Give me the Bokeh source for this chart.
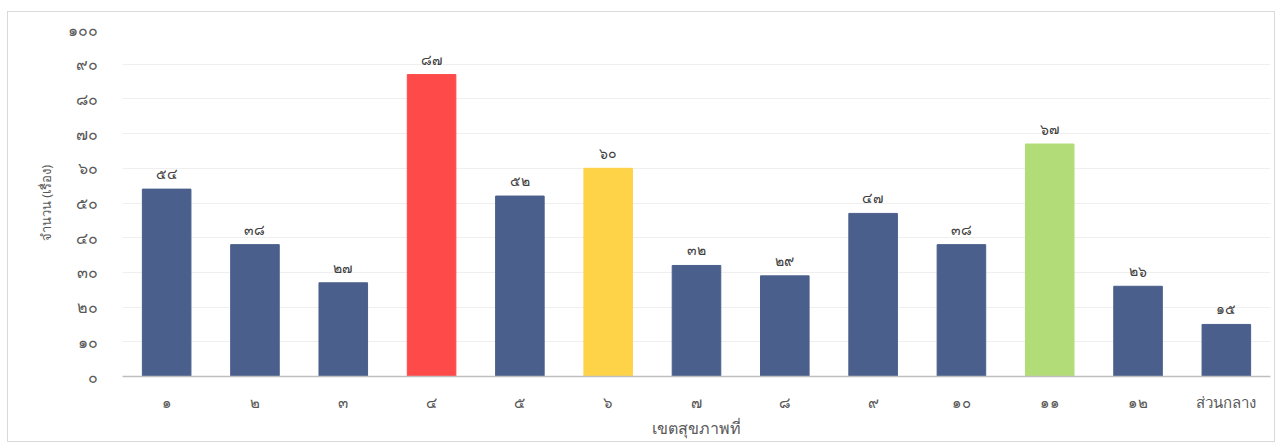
from bokeh.plotting import figure
from bokeh.models import ColumnDataSource, Range1d, FactorRange
from bokeh.embed import file_html
from bokeh.resources import INLINE
from bokeh.core.properties import value

regions = ["๑", "๒", "๓", "๔", "๕", "๖", "๗", "๘", "๙", "๑๐", "๑๑", "๑๒", "ส่วนกลาง"]
counts = [54, 38, 27, 87, 52, 60, 32, 29, 47, 38, 67, 26, 15]
bar_colors = ["#4a5f8b", "#4a5f8b", "#4a5f8b", "#ff4a4a", "#4a5f8b", "#ffd347",
              "#4a5f8b", "#4a5f8b", "#4a5f8b", "#4a5f8b", "#b1dc78", "#4a5f8b", "#4a5f8b"]
y_ticks = [0, 10, 20, 30, 40, 50, 60, 70, 80, 90, 100]

thai = str.maketrans("0123456789", "๐๑๒๓๔๕๖๗๘๙")
labels = [str(c).translate(thai) for c in counts]

src = ColumnDataSource(dict(x=regions, y=counts, color=bar_colors, label=labels))

FONT = "Noto Sans"

p = figure(x_range=FactorRange(*regions, range_padding=0), y_range=Range1d(0, 100),
           frame_width=1148, frame_height=347, output_backend="svg", toolbar_location=None,
           min_border_left=114, min_border_right=4, min_border_top=17, min_border_bottom=10)
p.styles = {"border": "1px solid #d9d9d9", "margin-left": "7px", "margin-top": "11px"}
p.outline_line_color = None

p.vbar(x="x", top="y", width=0.55, color="color", line_color="color", source=src)
p.text(x="x", y="y", text="label", source=src, text_align="center", text_baseline="bottom",
       y_offset=-6, text_font=value(FONT), text_font_size="14px", text_color="#404040")

p.xgrid.grid_line_color = None
p.ygrid.grid_line_color = "#efefef"
p.ygrid.ticker = y_ticks

p.yaxis.ticker = y_ticks
p.yaxis.major_label_overrides = {t: str(t).translate(thai) for t in y_ticks}
p.yaxis.axis_line_color = None
p.yaxis.major_tick_line_color = None
p.yaxis.minor_tick_line_color = None
p.yaxis.major_label_standoff = 19
p.yaxis.major_label_text_font = FONT
p.yaxis.major_label_text_font_size = "16px"
p.yaxis.major_label_text_color = "#595959"
p.yaxis.axis_label = "จำนวน (เรื่อง)"
p.yaxis.axis_label_text_font = FONT
p.yaxis.axis_label_text_font_size = "13px"
p.yaxis.axis_label_text_font_style = "normal"
p.yaxis.axis_label_text_color = "#595959"
p.yaxis.axis_label_standoff = 10

p.xaxis.axis_line_color = "#bfbfbf"
p.xaxis.axis_line_width = 1.5
p.xaxis.major_tick_line_color = None
p.xaxis.minor_tick_line_color = None
p.xaxis.major_label_standoff = 9
p.xaxis.major_label_text_font = FONT
p.xaxis.major_label_text_font_size = "15px"
p.xaxis.major_label_text_color = "#595959"
p.xaxis.axis_label = "เขตสุขภาพที่"
p.xaxis.axis_label_text_font = FONT
p.xaxis.axis_label_text_font_size = "16px"
p.xaxis.axis_label_text_font_style = "normal"
p.xaxis.axis_label_text_color = "#595959"
p.xaxis.axis_label_standoff = 2

open("out.html", "w").write(file_html(p, INLINE))
